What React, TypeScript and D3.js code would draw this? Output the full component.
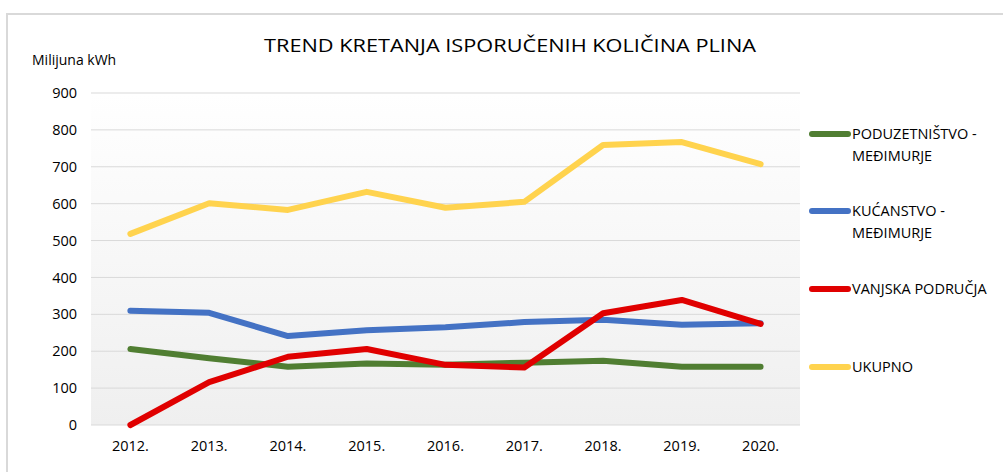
import React from "react";
import * as d3 from "d3";

const categories = ["2012.", "2013.", "2014.", "2015.", "2016.", "2017.", "2018.", "2019.", "2020."];
const poduzetnistvo = [206, 181, 158, 167, 163, 169, 174, 158, 158];
const kucanstvo = [310, 304, 241, 257, 265, 279, 285, 272, 276];
const vanjska = [0, 116, 185, 206, 163, 156, 303, 339, 274];
const ukupno = [518, 601, 583, 632, 589, 605, 759, 767, 707];
const yTicks = [0, 100, 200, 300, 400, 500, 600, 700, 800, 900];

const seriesNames = [["PODUZETNIŠTVO -", "MEĐIMURJE"], ["KUĆANSTVO -", "MEĐIMURJE"], ["VANJSKA PODRUČJA"], ["UKUPNO"]];
const seriesValues = [poduzetnistvo, kucanstvo, vanjska, ukupno];
const colors = ["#507e32", "#4472c4", "#e00000", "#ffd34e"];

const W = 1003;
const H = 472;
const plot = { left: 91, right: 800, top: 93, bottom: 425 };
const FONT = "'Open Sans', 'Noto Sans', sans-serif";

export default function App() {
  const x = d3.scaleBand<string>().domain(categories).range([plot.left, plot.right]);
  const y = d3.scaleLinear().domain([0, 900]).range([plot.bottom, plot.top]);
  const line = d3
    .line<number>()
    .x((_, i) => (x(categories[i]) as number) + x.bandwidth() / 2)
    .y((d) => y(d));

  const legendY = [134, 211, 289, 367];

  return (
    <svg
      width={W}
      height={H}
      style={{ position: "absolute", left: 0, top: 0, background: "#fff" }}
      fontFamily={FONT}
    >
      <defs>
        <linearGradient id="bg" x1="0" y1="0" x2="0" y2="1">
          <stop offset="0%" stopColor="#ffffff" />
          <stop offset="100%" stopColor="#efefef" />
        </linearGradient>
      </defs>
      <line x1={7} x2={W} y1={14} y2={14} stroke="#d9d9d9" strokeWidth={2} />
      <line x1={7} x2={7} y1={13} y2={H} stroke="#d9d9d9" strokeWidth={2} />

      <rect
        x={plot.left}
        y={plot.top}
        width={plot.right - plot.left}
        height={plot.bottom - plot.top}
        fill="url(#bg)"
      />
      {yTicks.map((t) => (
        <g key={t}>
          <line x1={plot.left} x2={plot.right} y1={y(t)} y2={y(t)} stroke="#d9d9d9" strokeWidth={1} />
          <text x={77} y={y(t)} dy="0.35em" textAnchor="end" fontSize={14.5} fill="#000">
            {t}
          </text>
        </g>
      ))}
      {categories.map((c) => (
        <text
          key={c}
          x={(x(c) as number) + x.bandwidth() / 2}
          y={446}
          dy="0.35em"
          textAnchor="middle"
          fontSize={14.5}
          fill="#000"
        >
          {c}
        </text>
      ))}

      <text x={510} y={52} textAnchor="middle" fontSize={19} fill="#000" textLength={492} lengthAdjust="spacingAndGlyphs">
        TREND KRETANJA ISPORUČENIH KOLIČINA PLINA
      </text>
      <text x={32} y={65} fontSize={14} fill="#000">
        Milijuna kWh
      </text>

      {seriesValues.map((vals, i) => (
        <path
          key={i}
          d={line(vals) as string}
          fill="none"
          stroke={colors[i]}
          strokeWidth={6}
          strokeLinecap="round"
          strokeLinejoin="round"
        />
      ))}

      {seriesNames.map((lines, i) => (
        <g key={i}>
          <line
            x1={812}
            x2={848}
            y1={legendY[i]}
            y2={legendY[i]}
            stroke={colors[i]}
            strokeWidth={6}
            strokeLinecap="round"
          />
          {lines.map((l, j) => (
            <text key={j} x={852} y={legendY[i] + j * 22} dy="0.35em" fontSize={14.5} fill="#000">
              {l}
            </text>
          ))}
        </g>
      ))}
    </svg>
  );
}
